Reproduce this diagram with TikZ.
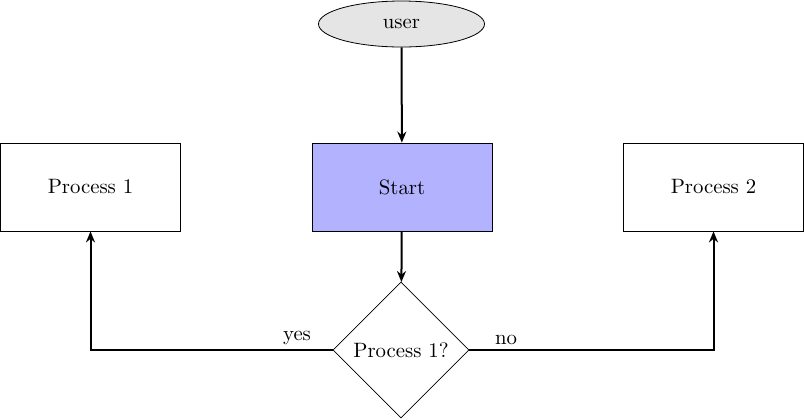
\documentclass[tikz,border=0pt]{standalone}
\usetikzlibrary{shapes.geometric,arrows.meta}
\begin{document}
\begin{tikzpicture}[x=0.5pt,y=-0.5pt,font=\fontsize{10.4}{12.5}\selectfont,
  box/.style={draw,rectangle,minimum width=90pt,minimum height=44pt,inner sep=0pt},
  userbox/.style={draw,ellipse,fill=gray!20,minimum width=83pt,minimum height=23pt,inner sep=0pt},
  decision/.style={draw,diamond,minimum width=68pt,minimum height=68pt,inner sep=0pt},
  arr/.style={line width=1pt,-{Stealth[length=5.5pt,width=4.5pt]}},
  lbl/.style={anchor=south,inner sep=1.5pt}]
\useasboundingbox (0,0) rectangle (804,419);
\node[userbox] (u) at (401.5,24) {user};
\node[box,fill=blue!30] (s) at (402,187) {Start};
\node[box] (p1) at (90.5,187) {Process 1};
\node[box] (p2) at (713.5,187) {Process 2};
\node[decision] (d) at (401,350) {Process 1?};
\draw[arr] (u) -- (s);
\draw[arr] (s) -- (d);
\draw[arr] (d.west) -| (p1.south);
\draw[arr] (d.east) -| (p2.south);
\node[lbl] (yes) at (297,348) {yes};
\node[lbl] (no) at (506,348) {no};
\end{tikzpicture}
\end{document}
